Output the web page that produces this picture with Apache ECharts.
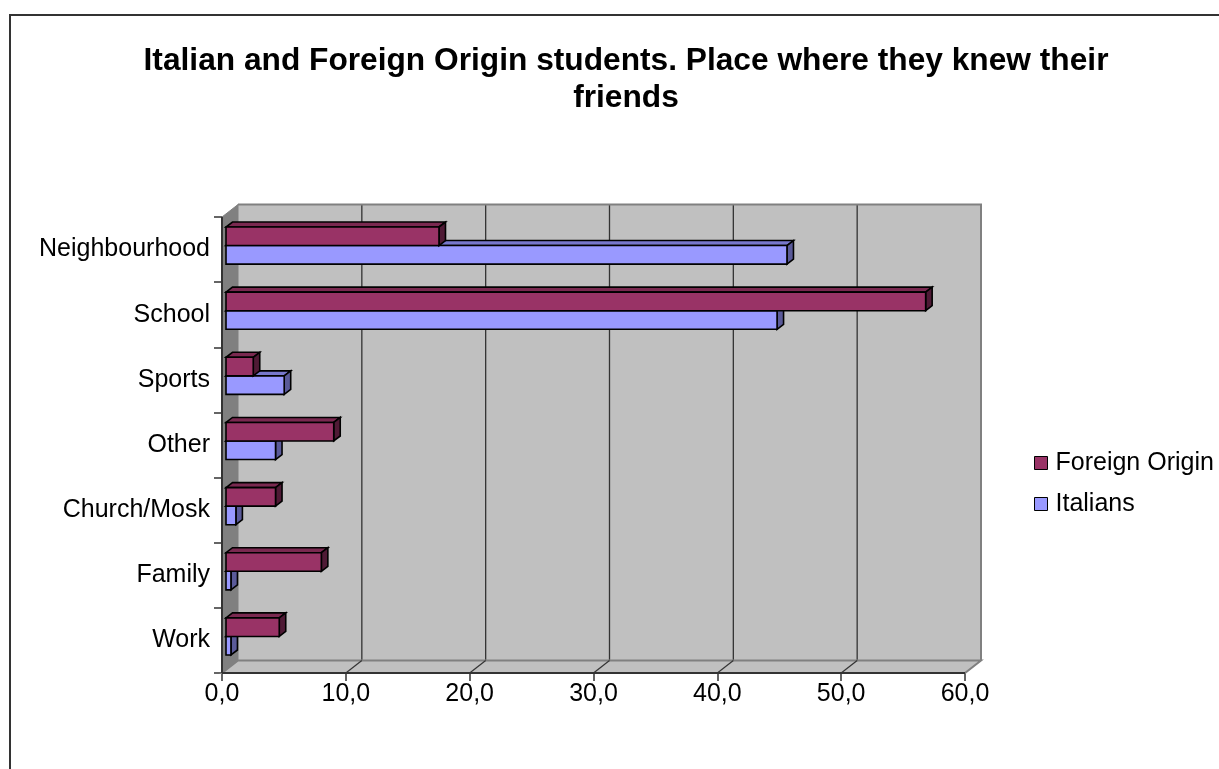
<!DOCTYPE html>
<html>
<head>
<meta charset="utf-8">
<title>Italian and Foreign Origin students</title>
<script src="https://cdn.jsdelivr.net/npm/echarts@6/dist/echarts.min.js"></script>
<style>
  html, body { margin: 0; padding: 0; background: #ffffff; }
  #chart { width: 1219px; height: 769px; }
</style>
</head>
<body>
<div id="chart"></div>
<script>
// Place where students met their friends (percent)
const categories = ['Neighbourhood', 'School', 'Sports', 'Other', 'Church/Mosk', 'Family', 'Work'];
const foreignOrigin = [17.2, 56.5, 2.2, 8.7, 4.0, 7.7, 4.3];
const italians = [45.3, 44.5, 4.7, 4.0, 0.8, 0.4, 0.4];
const seriesNames = ['Foreign Origin', 'Italians'];
const axisMax = 60;
const axisStep = 10;

const FONT = '"Liberation Sans", Arial, sans-serif';

// 3D look: depth offset of the back wall and of each bar's own thickness
const WALL_DX = 16, WALL_DY = -12.5;
const BAR_SHIFT_X = 4, BAR_SHIFT_Y = -4;
const BAR_DX = 6.5, BAR_DY = -5;

const palette = {
  'Foreign Origin': { front: '#993366', top: '#7a2950', side: '#4f1a35' },
  'Italians':       { front: '#9999ff', top: '#7777cc', side: '#5a5a99' }
};

function wallsRender(params, api) {
  const r = params.coordSys;
  const x0 = r.x, x1 = r.x + r.width, yT = r.y, yB = r.y + r.height;
  const children = [];
  // back wall
  children.push({
    type: 'rect',
    shape: { x: x0 + WALL_DX, y: yT + WALL_DY, width: r.width, height: r.height },
    style: { fill: '#c0c0c0', stroke: null }
  });
  // back wall gridlines
  for (let v = axisStep; v < axisMax; v += axisStep) {
    const xv = api.coord([v, 0])[0];
    children.push({
      type: 'line',
      shape: { x1: xv + WALL_DX, y1: yT + WALL_DY, x2: xv + WALL_DX, y2: yB + WALL_DY },
      style: { stroke: '#333333', lineWidth: 1.3 }
    });
  }
  // back wall top and right edges
  children.push({
    type: 'polyline',
    shape: { points: [[x0 + WALL_DX, yT + WALL_DY], [x1 + WALL_DX, yT + WALL_DY], [x1 + WALL_DX, yB + WALL_DY]] },
    style: { stroke: '#808080', lineWidth: 2, fill: null }
  });
  // left wall
  children.push({
    type: 'polygon',
    shape: { points: [[x0, yT], [x0 + WALL_DX, yT + WALL_DY], [x0 + WALL_DX, yB + WALL_DY], [x0, yB]] },
    style: { fill: '#808080', stroke: '#808080', lineWidth: 1 }
  });
  // floor
  children.push({
    type: 'polygon',
    shape: { points: [[x0, yB], [x1, yB], [x1 + WALL_DX, yB + WALL_DY], [x0 + WALL_DX, yB + WALL_DY]] },
    style: { fill: '#c0c0c0', stroke: '#808080', lineWidth: 2 }
  });
  // floor diagonals at each tick
  for (let v = axisStep; v < axisMax; v += axisStep) {
    const xv = api.coord([v, 0])[0];
    children.push({
      type: 'line',
      shape: { x1: xv, y1: yB, x2: xv + WALL_DX, y2: yB + WALL_DY },
      style: { stroke: '#333333', lineWidth: 1.2 }
    });
  }
  // front edges: value axis line and category axis line
  children.push({
    type: 'line',
    shape: { x1: x0, y1: yB, x2: x1, y2: yB },
    style: { stroke: '#333333', lineWidth: 2 }
  });
  children.push({
    type: 'line',
    shape: { x1: x0, y1: yT, x2: x0, y2: yB },
    style: { stroke: '#333333', lineWidth: 2 }
  });
  return { type: 'group', children: children };
}

function makeBarRender(name) {
  const c = palette[name];
  const upper = name === 'Foreign Origin';
  return function (params, api) {
    const v = api.value(0);
    const cat = api.value(1);
    const p0 = api.coord([0, cat]);
    const p1 = api.coord([v, cat]);
    const band = api.size([0, 1])[1];
    const bh = band * 0.285;
    const xs = p0[0] + BAR_SHIFT_X;
    const xe = p1[0] + BAR_SHIFT_X;
    const yTop = p0[1] + BAR_SHIFT_Y + (upper ? -bh : 0);
    const edge = { stroke: '#000000', lineWidth: 1.6, lineJoin: 'miter' };
    return {
      type: 'group',
      children: [
        {
          type: 'polygon',
          shape: { points: [[xs, yTop], [xe, yTop], [xe + BAR_DX, yTop + BAR_DY], [xs + BAR_DX, yTop + BAR_DY]] },
          style: Object.assign({ fill: c.top }, edge)
        },
        {
          type: 'polygon',
          shape: { points: [[xe, yTop], [xe + BAR_DX, yTop + BAR_DY], [xe + BAR_DX, yTop + bh + BAR_DY], [xe, yTop + bh]] },
          style: Object.assign({ fill: c.side }, edge)
        },
        {
          type: 'rect',
          shape: { x: xs, y: yTop, width: Math.max(xe - xs, 0), height: bh },
          style: Object.assign({ fill: c.front }, edge)
        }
      ]
    };
  };
}

const chart = echarts.init(document.getElementById('chart'), null, { renderer: 'canvas' });

const option = {
  backgroundColor: '#ffffff',
  animation: false,
  textStyle: { fontFamily: FONT },
  title: {
    text: 'Italian and Foreign Origin students. Place where they knew their\nfriends',
    left: 621,
    top: 38,
    textAlign: 'center',
    textStyle: { fontFamily: FONT, fontSize: 31.7, fontWeight: 'bold', color: '#000000', lineHeight: 37 }
  },
  legend: {
    data: seriesNames,
    orient: 'vertical',
    left: 1029,
    top: 444,
    icon: 'rect',
    itemWidth: 13,
    itemHeight: 13,
    itemGap: 13,
    itemStyle: { borderColor: '#000000', borderWidth: 1 },
    textStyle: { fontFamily: FONT, fontSize: 25, color: '#000000', lineHeight: 28, padding: [0, 0, 0, 3] }
  },
  graphic: [{
    type: 'rect',
    shape: { x: 10, y: 15, width: 1400, height: 1000 },
    style: { fill: null, stroke: '#333333', lineWidth: 2 },
    silent: true
  }],
  grid: { left: 222, top: 217, width: 743, height: 456, containLabel: false },
  xAxis: {
    type: 'value',
    min: 0,
    max: axisMax,
    interval: axisStep,
    axisLine: { show: false },
    axisTick: { show: true, length: 8, lineStyle: { color: '#333333', width: 1.5 } },
    splitLine: { show: false },
    axisLabel: {
      fontFamily: FONT, fontSize: 25, color: '#000000', margin: 9,
      formatter: function (v) { return v.toFixed(1).replace('.', ','); }
    }
  },
  yAxis: {
    type: 'category',
    data: categories,
    inverse: true,
    axisLine: { show: false },
    axisTick: { show: true, length: 8, lineStyle: { color: '#333333', width: 1.5 } },
    axisLabel: { fontFamily: FONT, fontSize: 25, color: '#000000', margin: 12 }
  },
  series: [
    {
      name: 'walls',
      type: 'custom',
      silent: true,
      z: 1,
      renderItem: wallsRender,
      data: [[0, 0]],
      encode: { x: 0, y: 1 }
    },
    {
      name: 'Italians',
      type: 'custom',
      z: 2,
      itemStyle: { color: palette['Italians'].front },
      renderItem: makeBarRender('Italians'),
      encode: { x: 0, y: 1 },
      data: italians.map(function (v, i) { return [v, i]; })
    },
    {
      name: 'Foreign Origin',
      type: 'custom',
      z: 3,
      itemStyle: { color: palette['Foreign Origin'].front },
      renderItem: makeBarRender('Foreign Origin'),
      encode: { x: 0, y: 1 },
      data: foreignOrigin.map(function (v, i) { return [v, i]; })
    }
  ]
};

chart.setOption(option);
</script>
</body>
</html>
